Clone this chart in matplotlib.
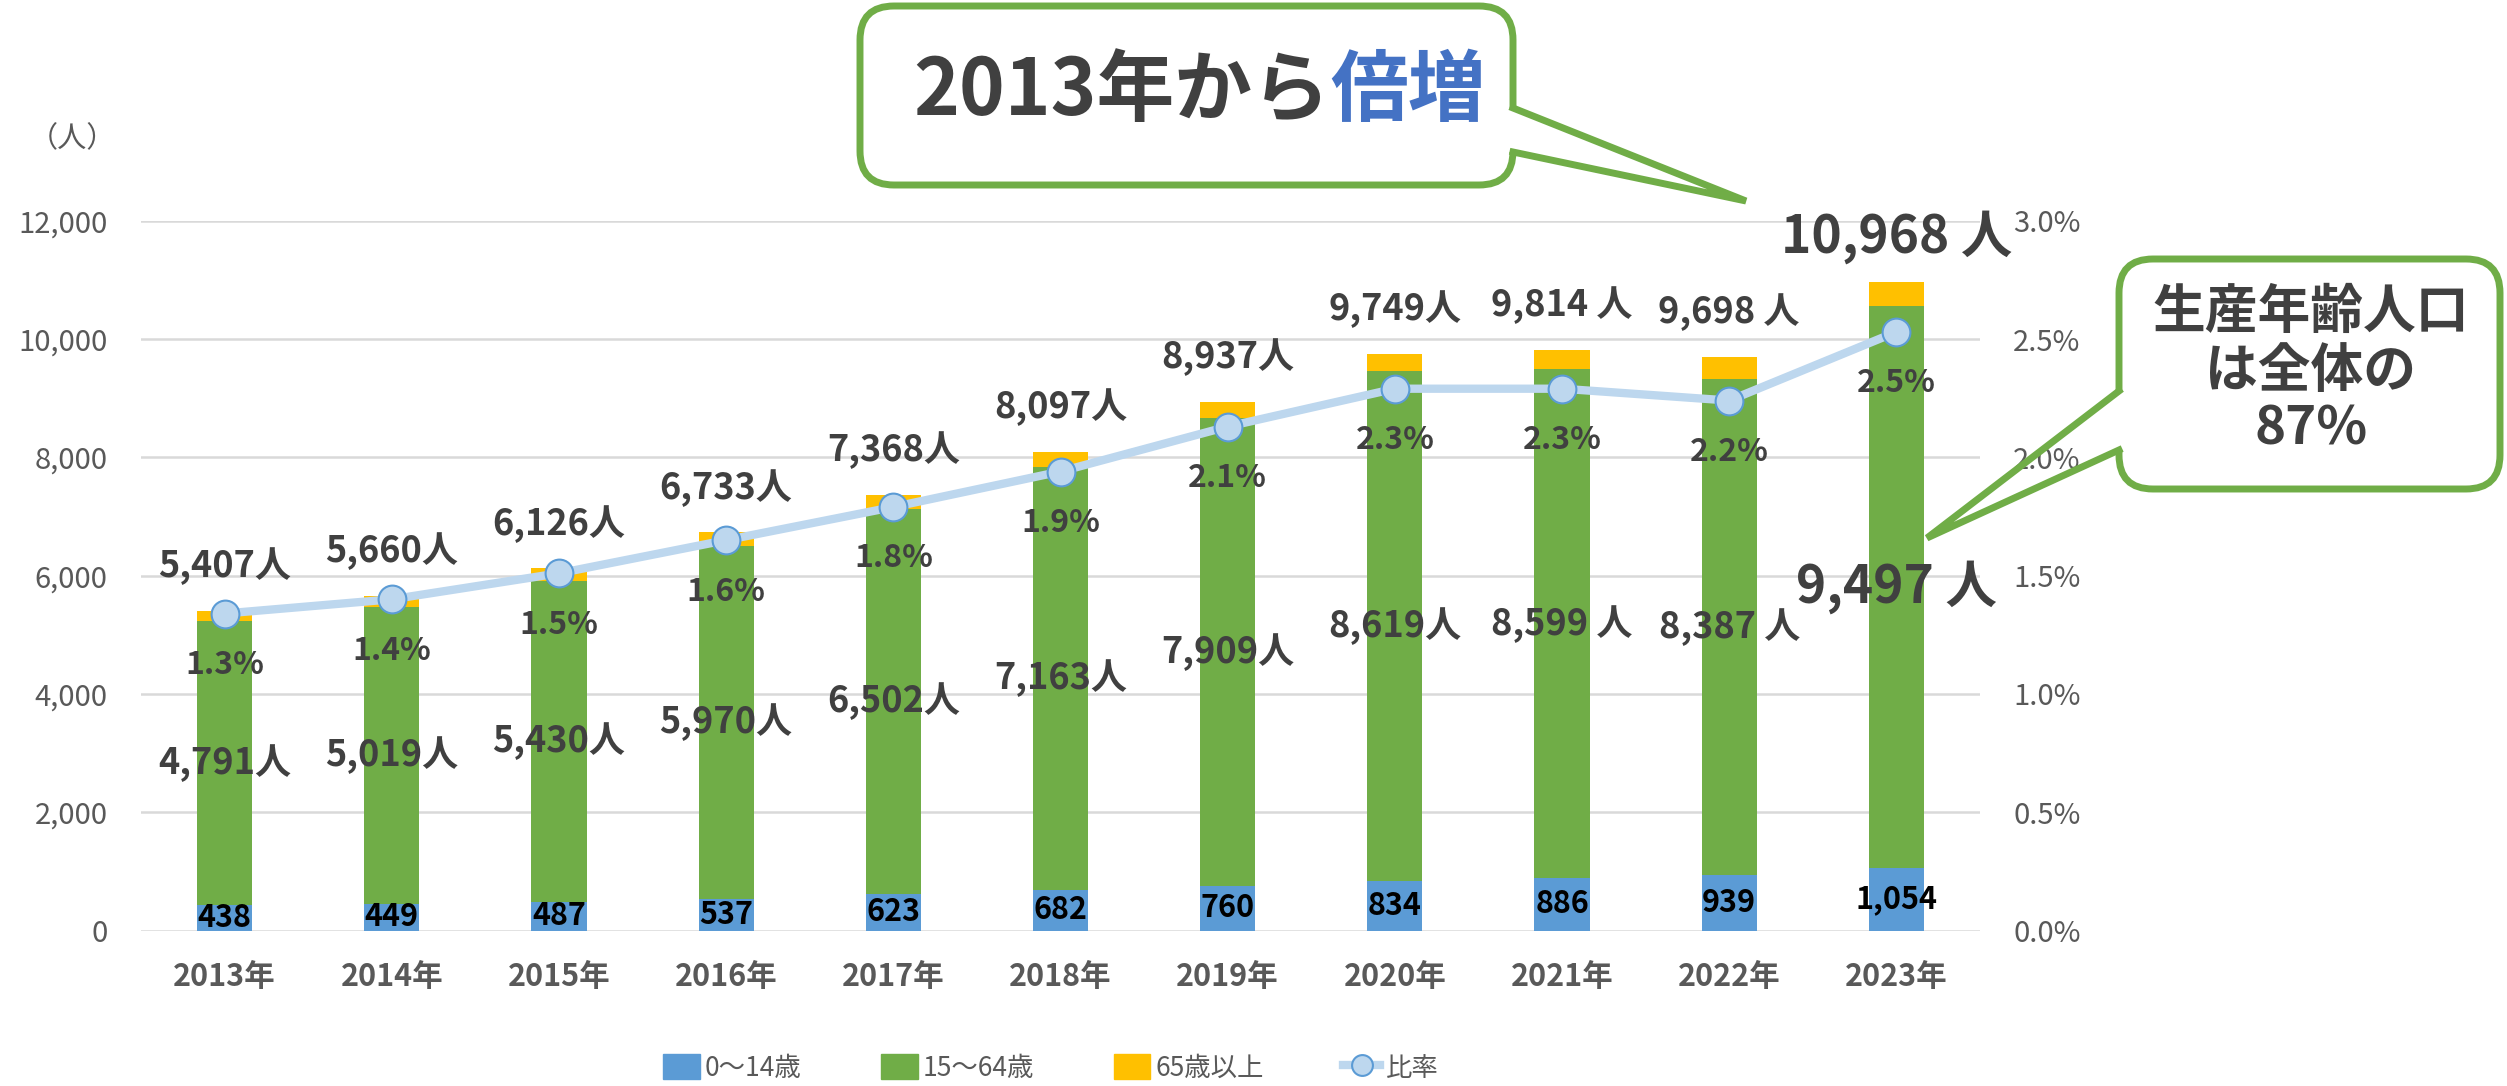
import numpy as np
import matplotlib
matplotlib.use('Agg')
import matplotlib.pyplot as plt
from matplotlib.patches import FancyBboxPatch, Patch
from matplotlib.lines import Line2D
from matplotlib.ticker import FuncFormatter

plt.rcParams['font.family'] = ['Noto Sans CJK JP', 'DejaVu Sans']

# data
years = ['2013年', '2014年', '2015年', '2016年', '2017年', '2018年',
         '2019年', '2020年', '2021年', '2022年', '2023年']
young = [438, 449, 487, 537, 623, 682, 760, 834, 886, 939, 1054]
working = [4791, 5019, 5430, 5970, 6502, 7163, 7909, 8619, 8599, 8387, 9497]
old = [178, 192, 209, 226, 243, 252, 268, 296, 329, 372, 417]
totals = [5407, 5660, 6126, 6733, 7368, 8097, 8937, 9749, 9814, 9698, 10968]
ratio = [1.34, 1.40, 1.51, 1.65, 1.79, 1.94, 2.13, 2.29, 2.29, 2.24, 2.53]
unit_sep = ['', '', '', '', '', '', '', '', ' ', ' ', ' ']

BLUE = '#5B9BD5'
GREEN = '#70AD47'
YELLOW = '#FFC000'
LINE = '#BDD7EE'
DARK = '#404040'
GRAY = '#595959'

W, H = 2507, 1086
fig = plt.figure(figsize=(W / 100, H / 100), dpi=100)
ax = fig.add_axes([141 / W, 1 - 930.6 / H, (1980 - 141) / W, (930.6 - 220.7) / H])

x = np.arange(len(years))
bw = 0.33
ax.bar(x, young, bw, color=BLUE, zorder=2)
ax.bar(x, working, bw, bottom=young, color=GREEN, zorder=2)
ax.bar(x, old, bw, bottom=np.add(young, working), color=YELLOW, zorder=2)

ax.set_xlim(-0.5, len(years) - 0.5)
ax.set_ylim(0, 12000)
ax.set_yticks(range(0, 12001, 2000))
ax.yaxis.set_major_formatter(FuncFormatter(lambda v, p: f'{int(v):,}'))
ax.grid(axis='y', color='#D9D9D9', lw=1.8)
ax.set_axisbelow(True)
for s in ax.spines.values():
    s.set_visible(False)
ax.set_xticks(x)
ax.set_xticklabels(years, fontsize=22, fontweight='bold', color=GRAY)
ax.tick_params(axis='x', length=0, pad=22)
ax.tick_params(axis='y', length=0, pad=24, labelsize=21, labelcolor=GRAY)

# ratio line on the right axis
ax2 = ax.twinx()
ax2.plot(x, ratio, color=LINE, lw=6, marker='o', ms=20, mfc=LINE, mec=BLUE, mew=1.5, zorder=5)
ax2.set_ylim(0, 3.0)
ax2.set_yticks(np.arange(0, 3.01, 0.5))
ax2.yaxis.set_major_formatter(FuncFormatter(lambda v, p: f'{v:.1f}%'))
ax2.tick_params(axis='y', length=0, pad=24, labelsize=21, labelcolor=GRAY)
for s in ax2.spines.values():
    s.set_visible(False)

# labels
for i in range(len(years)):
    big = i == len(years) - 1
    ax2.annotate(f'{totals[i]:,}{unit_sep[i]}人', (x[i], totals[i]), xycoords=ax.transData,
                 xytext=(0, 32), textcoords='offset points', ha='center', va='center',
                 fontsize=37 if big else 26, fontweight='bold', color=DARK)
    ax2.annotate(f'{working[i]:,}{unit_sep[i]}人', (x[i], young[i] + working[i] / 2),
                 xycoords=ax.transData, ha='center', va='center',
                 fontsize=37 if big else 26, fontweight='bold', color=DARK)
    ax2.annotate(f'{young[i]:,}', (x[i], young[i] / 2), xycoords=ax.transData,
                 ha='center', va='center', fontsize=22, fontweight='bold', color='black')
    ax2.annotate(f'{ratio[i]:.1f}%', (x[i], ratio[i]), xytext=(0, -37),
                 textcoords='offset points', ha='center', va='center',
                 fontsize=23, fontweight='bold', color=DARK)

fig.text(72 / W, 1 - 139 / H, '（人）', fontsize=21, color=GRAY, ha='center', va='center')

handles = [Patch(color=BLUE), Patch(color=GREEN), Patch(color=YELLOW),
           Line2D([], [], color=LINE, lw=6, marker='o', ms=15, mfc=LINE, mec=BLUE, mew=1.5)]
fig.legend(handles, ['0～14歳', '15～64歳', '65歳以上', '比率'], loc='center',
           bbox_to_anchor=(0.419, 0.0166), ncol=4, frameon=False, fontsize=19,
           labelcolor=GRAY, handlelength=1.4, handleheight=1.1, columnspacing=3.0,
           handletextpad=0.2)

# callouts drawn in pixel space
ov = fig.add_axes([0, 0, 1, 1])
ov.set_xlim(0, W)
ov.set_ylim(H, 0)
ov.axis('off')


def callout(x0, y0, x1, y1, base_a, base_b, tip):
    ov.add_patch(FancyBboxPatch((x0, y0), x1 - x0, y1 - y0,
                                boxstyle='round,pad=0,rounding_size=34',
                                fc='white', ec=GREEN, lw=5, zorder=1))
    ov.plot([base_a[0], base_b[0]], [base_a[1], base_b[1]], color='white', lw=7, zorder=2,
            solid_capstyle='butt')
    ov.plot([base_a[0], tip[0], base_b[0]], [base_a[1], tip[1], base_b[1]],
            color=GREEN, lw=5, zorder=3, solid_joinstyle='miter')


callout(860, 6, 1513, 185, (1513, 108), (1513, 152), (1746, 201))
ov.text(1330, 92, '2013年から', fontsize=56, fontweight='bold', color=DARK,
        ha='right', va='center')
ov.text(1330, 92, '倍増', fontsize=56, fontweight='bold', color='#4472C4',
        ha='left', va='center')

callout(2119, 259, 2500, 489, (2119, 391), (2119, 450), (1927, 538))
for txt, yy in [('生産年齢人口', 312), ('は全体の', 371), ('87%', 429)]:
    ov.text(2311, yy, txt, fontsize=38, fontweight='bold', color=DARK,
            ha='center', va='center')

plt.savefig('out.png', dpi=100)
